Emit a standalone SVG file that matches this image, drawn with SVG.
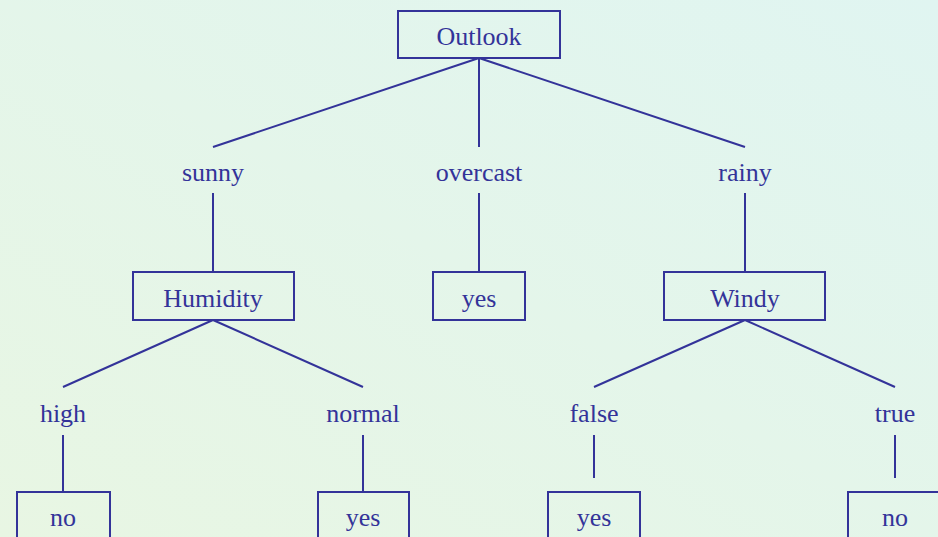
<svg xmlns="http://www.w3.org/2000/svg" width="938" height="537" viewBox="0 0 938 537">
  <defs>
    <linearGradient id="bg" x1="0" y1="1" x2="1" y2="0">
      <stop offset="0" stop-color="#e8f6e3"/>
      <stop offset="1" stop-color="#e0f5f1"/>
    </linearGradient>
    <style>
      .box { fill: none; stroke: #333399; stroke-width: 2; }
      .edge { fill: none; stroke: #333399; stroke-width: 2; }
      text { font-family: "Liberation Serif", "Times New Roman", serif; font-size: 26px; fill: #333399; text-anchor: middle; }
    </style>
  </defs>
  <rect width="938" height="537" fill="url(#bg)"/>

  <g id="connectors">
    <path class="edge" d="M479 58 L213 147 M479 58 L479 147 M479 58 L745 147"/>
    <path class="edge" d="M213 193 L213 272 M479 193 L479 272 M745 193 L745 272"/>
    <path class="edge" d="M213 320 L63 387 M213 320 L363 387"/>
    <path class="edge" d="M745 320 L594 387 M745 320 L895 387"/>
    <path class="edge" d="M63 435 L63 492 M363 435 L363 492 M594 435 L594 478 M895 435 L895 478"/>
  </g>

  <g id="outlook"><rect class="box" x="398" y="11" width="162" height="47"/><text x="479" y="44.5">Outlook</text></g>
  <g id="sunny"><text x="213" y="180.5">sunny</text></g>
  <g id="overcast"><text x="479" y="180.5">overcast</text></g>
  <g id="rainy"><text x="745" y="180.5">rainy</text></g>

  <g id="humidity"><rect class="box" x="133" y="272" width="161" height="48"/><text x="213" y="307">Humidity</text></g>
  <g id="overcast-yes"><rect class="box" x="433" y="272" width="92" height="48"/><text x="479" y="307">yes</text></g>
  <g id="windy"><rect class="box" x="664" y="272" width="161" height="48"/><text x="745" y="307">Windy</text></g>

  <g id="high"><text x="63" y="421.5">high</text></g>
  <g id="normal"><text x="363" y="421.5">normal</text></g>
  <g id="false"><text x="594" y="421.5">false</text></g>
  <g id="true"><text x="895" y="421.5">true</text></g>

  <g id="high-no"><rect class="box" x="17" y="492" width="93" height="60"/><text x="63" y="526">no</text></g>
  <g id="normal-yes"><rect class="box" x="318" y="492" width="91" height="60"/><text x="363" y="526">yes</text></g>
  <g id="false-yes"><rect class="box" x="548" y="492" width="92" height="60"/><text x="594" y="526">yes</text></g>
  <g id="true-no"><rect class="box" x="848" y="492" width="93" height="60"/><text x="895" y="526">no</text></g>
</svg>
